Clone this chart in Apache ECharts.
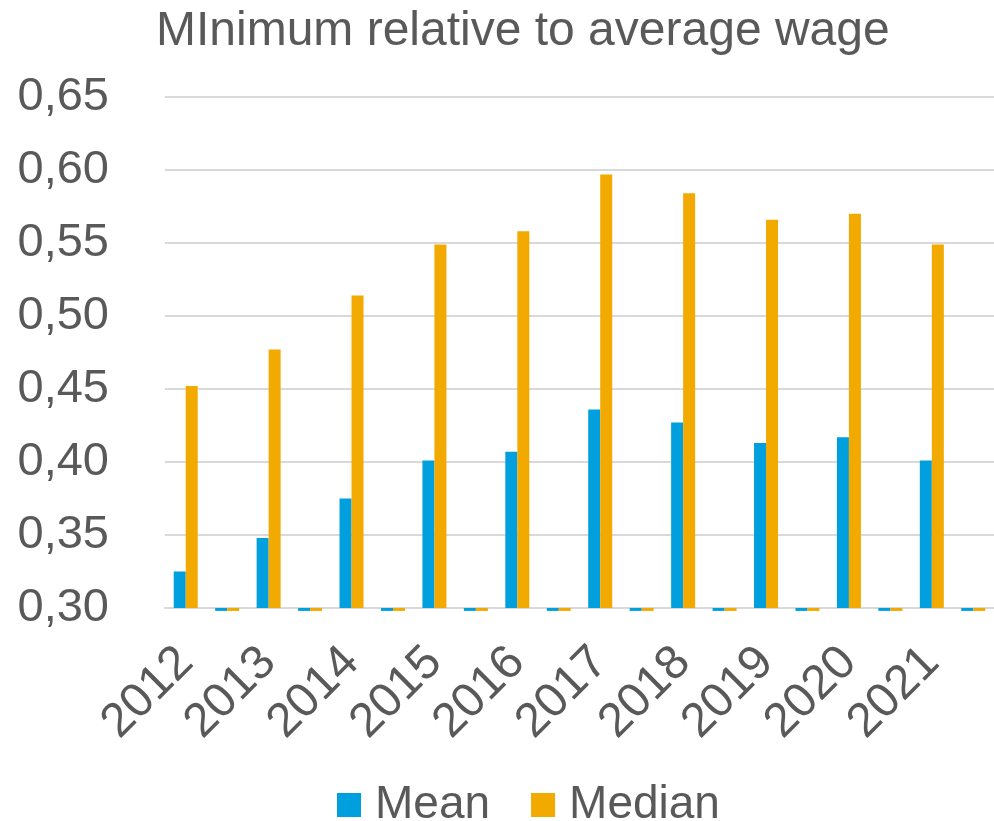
<!DOCTYPE html>
<html>
<head>
<meta charset="utf-8">
<script src="https://cdn.jsdelivr.net/npm/echarts@6/dist/echarts.min.js"></script>
<style>
  html, body { margin: 0; padding: 0; background: #ffffff; }
  #chart { width: 994px; height: 821px; }
</style>
</head>
<body>
<div id="chart"></div>
<script>
// Each year is followed by an empty spacer category.
const categories = [
  '2012', '', '2013', '', '2014', '', '2015', '', '2016', '',
  '2017', '', '2018', '', '2019', '', '2020', '', '2021', ''
];
// Minimum wage as a share of the mean wage
const meanValues = [
  0.325, 0.298, 0.348, 0.298, 0.375, 0.298, 0.401, 0.298, 0.407, 0.298,
  0.436, 0.298, 0.427, 0.298, 0.413, 0.298, 0.417, 0.298, 0.401, 0.298
];
// Minimum wage as a share of the median wage
const medianValues = [
  0.452, 0.298, 0.477, 0.298, 0.514, 0.298, 0.549, 0.298, 0.558, 0.298,
  0.597, 0.298, 0.584, 0.298, 0.566, 0.298, 0.570, 0.298, 0.549, 0.298
];
const yTicks = { min: 0.30, max: 0.65, step: 0.05 };

const textColor = '#595959';
const gridColor = '#D9D9D9';
const font = '"Liberation Sans", Arial, sans-serif';

const chart = echarts.init(document.getElementById('chart'), null, { renderer: 'canvas' });

chart.setOption({
  backgroundColor: '#ffffff',
  animation: false,
  title: {
    text: 'MInimum relative to average wage',
    left: 151,
    top: 3,
    textStyle: { color: textColor, fontSize: 48, fontWeight: 'normal', fontFamily: font }
  },
  legend: {
    left: 332,
    top: 777,
    icon: 'rect',
    itemWidth: 24,
    itemHeight: 24,
    itemGap: 41,
    textStyle: { color: textColor, fontSize: 46, fontFamily: font, padding: [0, 0, 0, 9] },
    data: ['Mean', 'Median']
  },
  grid: { left: 165, top: 97, width: 840, height: 511, containLabel: false },
  xAxis: {
    type: 'category',
    data: categories,
    axisLine: { show: true, lineStyle: { color: gridColor, width: 2 } },
    axisTick: { show: false },
    axisLabel: {
      interval: 0,
      rotate: 45,
      margin: 47,
      padding: [18, 0, 0, 0],
      color: textColor,
      fontSize: 48,
      fontFamily: font
    }
  },
  yAxis: {
    type: 'value',
    min: yTicks.min,
    max: yTicks.max,
    interval: yTicks.step,
    startValue: yTicks.min,
    axisLine: { show: false },
    axisTick: { show: false },
    splitLine: { lineStyle: { color: gridColor, width: 2 } },
    axisLabel: {
      margin: 56,
      color: textColor,
      fontSize: 47,
      fontFamily: font,
      formatter: v => v.toFixed(2).replace('.', ',')
    }
  },
  series: [
    {
      name: 'Mean',
      type: 'bar',
      data: meanValues,
      barWidth: 12,
      barGap: '0%',
      clip: false,
      itemStyle: { color: '#009FDE' }
    },
    {
      name: 'Median',
      type: 'bar',
      data: medianValues,
      barWidth: 12,
      barGap: '0%',
      clip: false,
      itemStyle: { color: '#F2A900' }
    }
  ]
});
</script>
</body>
</html>
